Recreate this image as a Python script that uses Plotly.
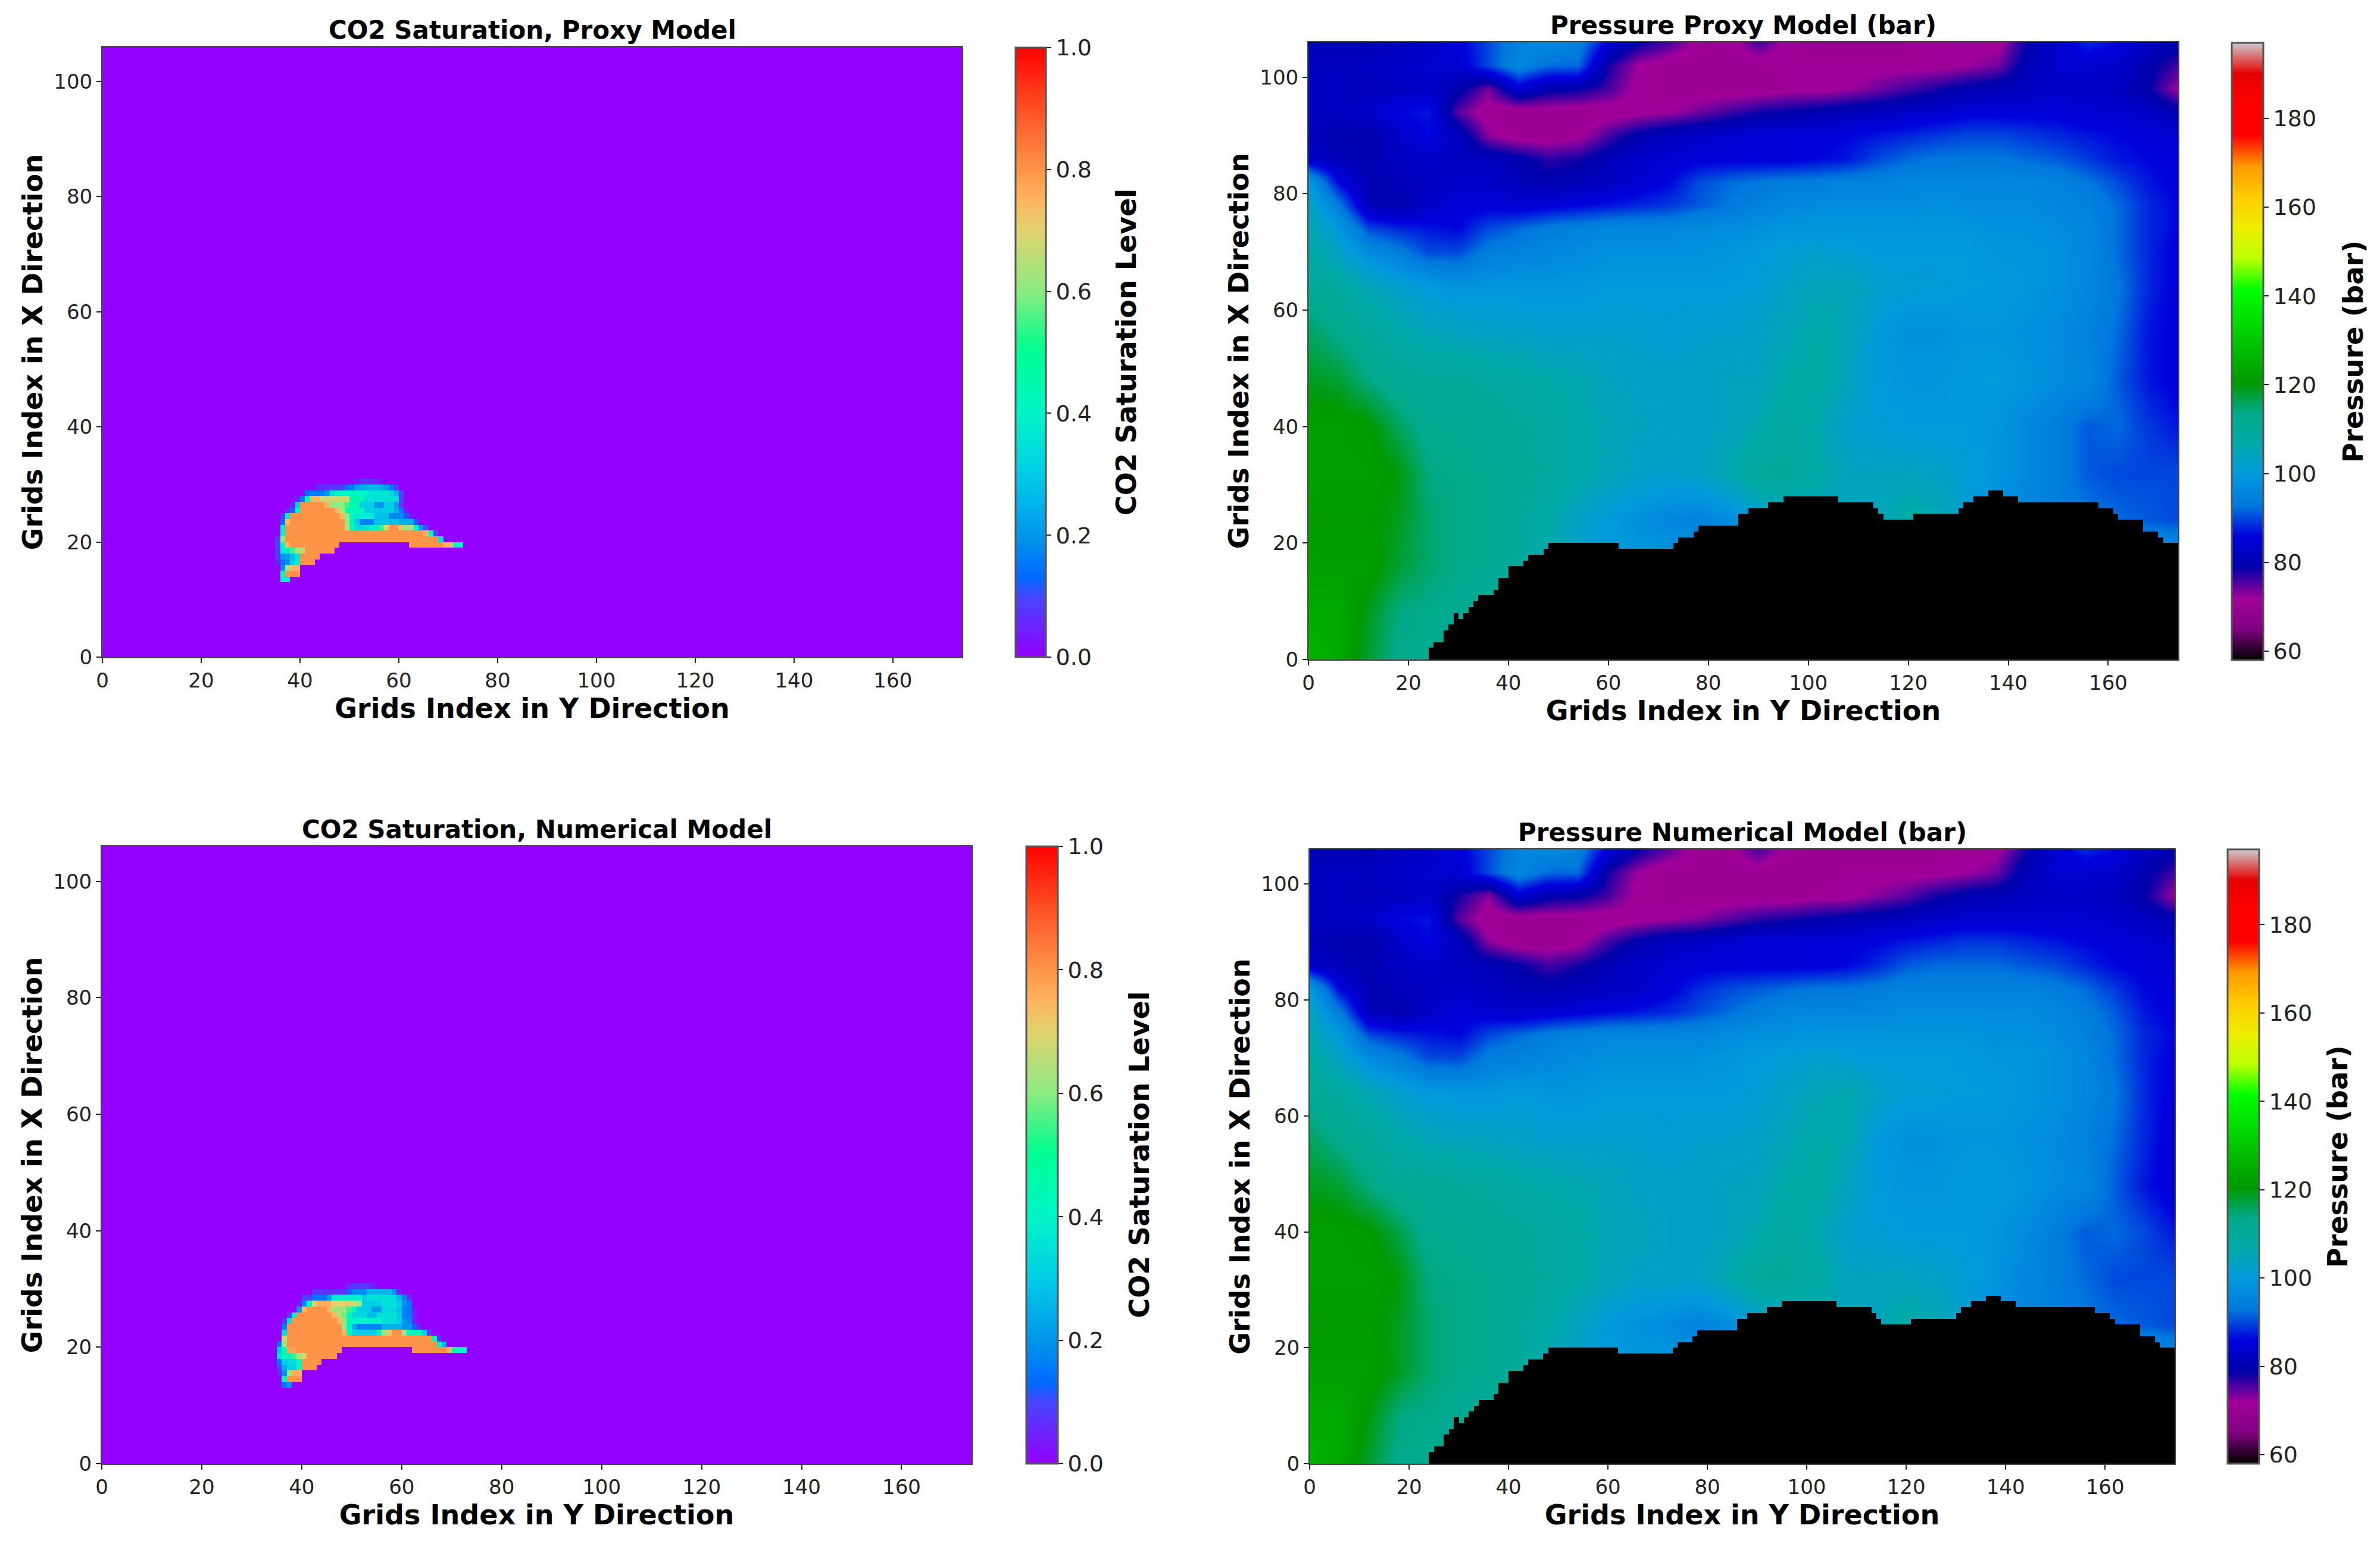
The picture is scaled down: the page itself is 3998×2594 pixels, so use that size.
import numpy as np
import plotly.graph_objects as go

W, H = 3998, 2594

# ---- data ----
X_TICKS = [0, 20, 40, 60, 80, 100, 120, 140, 160]
Y_TICKS = [0, 20, 40, 60, 80, 100]
SAT_TICKS = [0.0, 0.2, 0.4, 0.6, 0.8, 1.0]
PRES_TICKS = [60, 80, 100, 120, 140, 160, 180]
NY_GRID, NX_GRID = 174, 106

PLUME_FIRST_COL = 35
PLUME_FIRST_ROW = 13
PROXY_PLUME = [
    [0, .4, .38],
    [0, .42, .8, .8, .8],
    [0, .18, .6, .75, .75],
    [.05, .15, .18, .3, .38, .8, .8, .8],
    [.08, .2, .22, .28, .35, .8, .8, .8, .8],
    [.08, .38, .38, .55, .65, .65] + [.8] * 6,
    [.1, .4, .75] + [.8] * 10 + [0] * 14 + [.8] * 7 + [.75, .75, .42, .42],
    [.08, .6] + [.8] * 31 + [.35],
    [0, .42] + [.8] * 28 + [.75, .42, .1],
    [0, .38] + [.8] * 12 + [.68, .45, .33, .33, .33, .38, .38, .55, .7, .8, .8, .72, .62, .65, .42, .2, .1],
    [0, .15, .75] + [.8] * 11 + [.62, .45, .3, .17, .17, .17, .28, .28, .28, .28, .28, .25, .25, .25, .12],
    [0, .08, .38] + [.8] * 10 + [.75, .6, .42, .38, .38, .38, .38, .28, .28, .28, .18, .18, .18, .12, .03],
    [0, 0, .05, .12, .4] + [.8] * 7 + [.75, .65, .5, .42, .42, .42, .3, .3, .3, .3, .3, .3, .25, .15, .03],
    [0, 0, 0, .05, .3] + [.8] * 5 + [.75, .6, .6, .6, .55, .45, .45, .3, .3, .3, .2, .2, .3, .3, .22, .08],
    [0, 0, 0, 0, .05, .15, .42, .75, .75, .68, .68, .68, .68, .68, .68, .45, .45, .45, .35, .35, .35, .35, .35, .35, .35, .1],
    [0] * 6 + [.14, .16, .15, .16, .2, .36, .38, .4, .4, .42, .42, .4, .38, .36, .36, .36, .36, .32, .25, .1],
    [0] * 8 + [.05, .06, .07, .07, .08, .08, .15, .15, .22, .24, .26, .26, .26, .24, .22, .15, .08],
    [0] * 16 + [.04, .07, .08, .06, .05, .03],
]
NUMERICAL_PLUME = [
    [0, .15, .2],
    [0, .42, .8, .8, .8],
    [.05, .2, .6, .76, .76],
    [.08, .25, .3, .3, .42, .8, .8, .8],
    [.15, .3, .33, .33, .42, .8, .8, .8, .8],
    [.35, .42, .42, .55, .62, .7] + [.8] * 6,
    [.3, .45, .78, .78] + [.8] * 9 + [0] * 14 + [.8] * 7 + [.76, .42, .38, .42],
    [.15, .62] + [.8] * 30 + [.42, .25],
    [0, .65] + [.8] * 29 + [.45, .07],
    [0, .33] + [.8] * 11 + [.76, .45, .3, .3, .3, .3, .3, .42, .62, .72, .8, .8, .62, .42, .42, .42, .3, .08],
    [0, .17] + [.8] * 11 + [.62, .4, .25, .17, .17, .17, .17, .17, .25, .25, .25, .25, .2, .2, .12, .05],
    [0, .07, .35] + [.8] * 9 + [.75, .62, .45, .4, .4, .4, .4, .4, .4, .35, .35, .35, .3, .2, .17, .05],
    [0, 0, .08, .38] + [.8] * 7 + [.75, .65, .58, .42, .33, .33, .33, .27, .27, .35, .35, .35, .35, .3, .17, .15, .05],
    [0, 0, 0, 0, .2, .75] + [.8] * 4 + [.75, .62, .62, .62, .55, .42, .3, .3, .3, .22, .22, .33, .33, .33, .28, .17, .15, .04],
    [0, 0, 0, 0, .04, .17, .42, .7, .76, .76, .76, .7, .7, .7, .7, .65, .62, .3, .3, .3, .3, .35, .35, .35, .3, .2, .15],
    [0] * 5 + [.1, .08, .15, .15, .15, .22, .38, .38, .38, .38, .38, .4, .3, .35, .35, .35, .35, .35, .35, .25, .17, .07],
    [0] * 7 + [.07, .07, .07, .07, .07, .07, .07, .12, .18, .18, .18, .26, .26, .26, .26, .26, .2, .05],
    [0] * 14 + [.06, .07, .08, .08, .07, .04],
]

# height of the black inactive block in every Y-direction column
BLACK_HEIGHT = ([0] * 24 + [2] + [3] * 2 + [5, 6, 8, 7, 8, 9, 10] + [11] * 3 + [12] + [14] * 2 + [16] * 3 + [17]
                + [18] * 3 + [19] + [20] * 14 + [19] * 11 + [20] + [21] * 3 + [22] + [23] * 8 + [25] * 2 + [26] * 4
                + [27] * 3 + [28] * 11 + [27] * 7 + [26, 25] + [24] * 6 + [25] * 9 + [26] + [27] * 2 + [28] * 3
                + [29] * 3 + [28] * 3 + [27] * 16 + [26] * 3 + [25] + [24] * 5 + [22] * 3 + [21] + [20] * 3)

PRES_X = list(range(0, 175, 6))
PRES_Y = [0, 8, 16, 24, 32, 40, 48, 56, 64, 70, 74, 78, 82, 86, 90, 94, 98, 102, 106]
PROXY_PRESSURE = [
    [126, 124, 118, 113, 112, 110, 108, 106, 104, 104, 104, 104, 104, 104, 104, 104, 104, 104, 104, 104, 104, 104, 104, 104, 104, 104, 104, 104, 104, 104],
    [124, 124, 119, 114, 113, 112, 110, 108, 104, 104, 104, 104, 104, 104, 104, 104, 104, 104, 104, 104, 104, 104, 104, 104, 104, 104, 104, 104, 104, 104],
    [122, 122, 122, 118, 115, 113, 112, 110, 106, 102, 100, 100, 100, 100, 100, 100, 100, 100, 100, 100, 100, 100, 100, 100, 100, 100, 100, 100, 100, 100],
    [121, 121, 121, 119, 115, 113, 112, 110, 107, 103, 100, 98, 96, 95, 97, 101, 104, 105, 104, 104, 108, 106, 101, 98, 96, 94, 93, 92, 91, 90],
    [122, 122, 122, 120, 114, 113, 112, 111, 109, 107, 105, 103, 102, 103, 106, 110, 110, 107, 104, 104, 104, 103, 101, 99, 96, 94, 91, 90, 90, 90],
    [122, 122, 121, 116, 112, 112, 111, 110, 109, 107, 105, 104, 103, 103, 104, 106, 109, 106, 102, 101, 100, 100, 100, 99, 96, 94, 91, 92, 89, 87],
    [119, 118, 114, 111, 110, 110, 109, 108, 107, 106, 104, 103, 103, 103, 104, 104, 107, 108, 104, 100, 99, 99, 100, 100, 99, 97, 96, 91, 87, 85],
    [116, 113, 110, 107, 105, 104, 103, 103, 102, 102, 102, 102, 101, 102, 102, 103, 105, 107, 105, 100, 98, 98, 99, 99, 98, 97, 95, 92, 87, 85],
    [111, 109, 105, 102, 100, 99, 99, 99, 99, 99, 100, 100, 100, 100, 100, 101, 103, 105, 105, 102, 101, 101, 100, 100, 99, 98, 96, 93, 88, 85],
    [108, 103, 97, 94, 90, 90, 94, 95, 96, 97, 98, 98, 98, 98, 99, 100, 101, 102, 101, 100, 100, 100, 100, 99, 99, 98, 96, 92, 88, 85],
    [106, 100, 90, 88, 87, 86, 90, 92, 94, 95, 96, 96, 96, 97, 97, 98, 99, 99, 99, 99, 99, 99, 99, 98, 98, 97, 96, 92, 88, 86],
    [104, 94, 81, 80, 83, 85, 85, 84, 85, 86, 87, 88, 89, 91, 93, 95, 96, 97, 97, 97, 97, 98, 97, 97, 97, 96, 95, 92, 88, 86],
    [100, 86, 80, 81, 82, 83, 83, 81, 80, 81, 82, 84, 86, 90, 92, 93, 94, 94, 95, 95, 96, 96, 96, 96, 96, 95, 93, 90, 87, 85],
    [83, 81, 80, 82, 83, 82, 82, 80, 77, 78, 81, 83, 84, 85, 85, 85, 85, 86, 87, 90, 92, 93, 93, 93, 92, 91, 89, 87, 86, 85],
    [81, 80, 79, 83, 86, 82, 73, 70, 70, 71, 76, 80, 82, 83, 84, 85, 85, 85, 86, 87, 88, 89, 90, 90, 89, 88, 87, 86, 85, 84],
    [82, 82, 83, 86, 87, 75, 70, 70, 70, 70, 70, 71, 72, 74, 76, 78, 79, 80, 81, 82, 83, 84, 85, 85, 85, 85, 84, 84, 83, 80],
    [82, 82, 81, 82, 83, 80, 74, 84, 80, 79, 76, 71, 70, 70, 70, 70, 71, 71, 72, 74, 76, 78, 80, 81, 82, 83, 83, 82, 79, 72],
    [82, 82, 82, 83, 84, 84, 90, 96, 92, 92, 78, 72, 70, 70, 70, 70, 71, 71, 71, 71, 71, 71, 72, 74, 81, 84, 84, 83, 80, 76],
    [80, 80, 80, 81, 83, 85, 90, 95, 97, 95, 85, 79, 76, 71, 70, 76, 71, 70, 70, 70, 70, 71, 71, 71, 79, 84, 88, 86, 82, 80],
]
NUMERICAL_PRESSURE = [
    [126, 124, 118, 113, 112, 110, 108, 106, 104, 104, 104, 104, 104, 104, 104, 104, 104, 104, 104, 104, 104, 104, 104, 104, 104, 104, 104, 104, 104, 104],
    [124, 124, 120, 114, 113, 112, 110, 108, 104, 104, 104, 104, 104, 104, 104, 104, 104, 104, 104, 104, 104, 104, 104, 104, 104, 104, 104, 104, 104, 104],
    [122, 122, 122, 119, 115, 113, 112, 110, 106, 102, 100, 100, 100, 100, 100, 100, 100, 100, 100, 100, 100, 100, 100, 100, 100, 100, 100, 100, 100, 100],
    [121, 121, 121, 119, 115, 113, 112, 110, 107, 104, 100, 98, 97, 95, 97, 101, 104, 105, 104, 104, 108, 106, 101, 98, 96, 95, 93, 92, 91, 90],
    [122, 122, 122, 120, 114, 113, 112, 111, 109, 107, 105, 103, 103, 103, 106, 110, 110, 108, 104, 104, 104, 103, 101, 99, 96, 94, 92, 90, 90, 90],
    [122, 122, 121, 117, 112, 112, 111, 110, 109, 108, 105, 105, 103, 103, 104, 106, 109, 106, 102, 101, 100, 100, 100, 99, 97, 94, 91, 92, 90, 87],
    [119, 118, 114, 111, 111, 110, 109, 108, 107, 106, 105, 103, 103, 103, 104, 104, 107, 108, 104, 100, 99, 99, 100, 100, 99, 97, 96, 91, 87, 84],
    [116, 113, 110, 107, 105, 104, 104, 103, 102, 102, 102, 102, 101, 102, 102, 103, 105, 107, 106, 100, 98, 98, 99, 99, 98, 97, 95, 92, 88, 84],
    [111, 109, 105, 102, 100, 99, 99, 100, 99, 99, 100, 100, 100, 100, 100, 101, 103, 105, 106, 103, 101, 101, 100, 100, 99, 98, 96, 93, 88, 85],
    [108, 103, 97, 94, 90, 90, 94, 95, 96, 97, 98, 98, 98, 98, 99, 100, 101, 102, 101, 100, 100, 100, 100, 99, 99, 98, 96, 92, 88, 85],
    [106, 100, 90, 88, 87, 86, 90, 92, 94, 95, 96, 96, 96, 96, 97, 98, 98, 99, 99, 99, 99, 99, 99, 98, 98, 97, 95, 92, 88, 86],
    [104, 94, 81, 80, 83, 85, 84, 83, 84, 85, 86, 87, 88, 90, 92, 94, 96, 96, 96, 96, 97, 97, 97, 97, 97, 96, 94, 91, 87, 85],
    [100, 86, 80, 81, 82, 83, 82, 81, 80, 81, 82, 83, 85, 88, 90, 91, 92, 93, 93, 94, 95, 95, 95, 95, 95, 94, 92, 89, 86, 85],
    [83, 81, 80, 82, 83, 82, 81, 79, 76, 78, 81, 83, 84, 85, 85, 85, 85, 85, 86, 88, 91, 92, 92, 92, 91, 90, 88, 86, 85, 84],
    [81, 80, 79, 83, 86, 82, 73, 70, 70, 71, 76, 80, 82, 83, 84, 85, 85, 85, 85, 86, 87, 88, 89, 89, 88, 87, 86, 85, 84, 83],
    [82, 82, 83, 86, 87, 75, 70, 70, 70, 70, 70, 71, 72, 73, 75, 77, 78, 79, 80, 81, 82, 83, 84, 84, 84, 84, 84, 83, 82, 80],
    [82, 82, 81, 82, 83, 78, 73, 84, 80, 79, 76, 71, 70, 70, 70, 70, 70, 71, 71, 73, 75, 78, 80, 81, 82, 83, 83, 82, 79, 72],
    [82, 82, 82, 83, 84, 84, 90, 96, 92, 92, 78, 72, 70, 70, 70, 70, 70, 70, 71, 71, 71, 71, 72, 74, 81, 84, 84, 83, 80, 76],
    [80, 80, 80, 81, 83, 85, 90, 95, 97, 95, 85, 79, 75, 71, 70, 76, 71, 70, 70, 70, 70, 70, 71, 71, 78, 84, 88, 86, 82, 80],
]

TITLES = ["CO2 Saturation, Proxy Model", "Pressure Proxy Model (bar)",
          "CO2 Saturation, Numerical Model", "Pressure Numerical Model (bar)"]
XLABEL = "Grids Index in Y Direction"
YLABEL = "Grids Index in X Direction"
CB_SAT = "CO2 Saturation Level"
CB_PRES = "Pressure (bar)"

# ---- styles ----
SAT_SCALE = [[0, "rgb(148,0,255)"], [.1, "rgb(70,70,255)"], [.13, "rgb(0,105,255)"], [.2, "rgb(0,150,235)"],
             [.3, "rgb(0,205,230)"], [.4, "rgb(0,245,200)"], [.5, "rgb(0,255,150)"], [.52, "rgb(20,250,140)"],
             [.6, "rgb(140,235,130)"], [.7, "rgb(225,210,110)"], [.75, "rgb(255,180,95)"], [.8, "rgb(255,148,72)"],
             [.9, "rgb(255,80,35)"], [1, "rgb(255,0,0)"]]
_SPECTRAL = [(0, 0, 0), (.5, 0, .5), (.63, 0, .6), (0, 0, .6667), (0, 0, .8667), (0, .4667, .8667),
             (0, .6, .8667), (0, .6667, .6667), (0, .6667, .5333), (0, .6, 0), (0, .7333, 0), (0, .8667, 0),
             (0, 1, 0), (.7333, 1, 0), (.9333, .9333, 0), (1, .8, 0), (1, .6, 0), (1, 0, 0), (1, 0, 0),
             (.9, 0, 0), (.8, .8, .8)]
PRES_SCALE = [[i / 20, "rgb(%d,%d,%d)" % tuple(round(255 * c) for c in rgb)] for i, rgb in enumerate(_SPECTRAL)]
FONT = "DejaVu Sans"
INK = "#222222"

# px boxes: left, right, top, bottom
AX = [(172, 1616, 79, 1104), (2198, 3659, 71, 1108), (171, 1632, 1422, 2459), (2200, 3653, 1427, 2459)]
CB = [(1706, 1757, 80, 1104), (3749, 3802, 72, 1109), (1724, 1777, 1422, 2459), (3742, 3795, 1427, 2459)]
CB_TITLE_X = [1892, 3952, 1913, 3927]


def plume_matrix(rows):
    z = np.zeros((NX_GRID, NY_GRID))
    for r, vals in enumerate(rows):
        z[PLUME_FIRST_ROW + r, PLUME_FIRST_COL:PLUME_FIRST_COL + len(vals)] = vals
    return z


def black_mask():
    m = np.full((NX_GRID, NY_GRID), np.nan)
    for col, h in enumerate(BLACK_HEIGHT):
        m[:h, col] = 1
    return m


fig = go.Figure()
layout = {}
ann = []
cells_x = [i + .5 for i in range(NY_GRID)]
cells_y = [i + .5 for i in range(NX_GRID)]
for i in range(4):
    l, r, t, b = AX[i]
    ax_x, ax_y = f"x{i + 1}", f"y{i + 1}"
    cl, cr, ct, cb = CB[i]
    bar = dict(x=cl / W, xanchor="left", xref="paper", y=1 - cb / H, yanchor="bottom", yref="paper",
               len=(cb - ct) / H, lenmode="fraction", thickness=cr - cl, thicknessmode="pixels",
               xpad=0, ypad=0, outlinecolor="#555555", outlinewidth=3, ticks="outside", ticklen=8,
               tickwidth=2, tickcolor=INK, tickfont=dict(family=FONT, size=38, color=INK))
    if i % 2 == 0:
        z = plume_matrix(PROXY_PLUME if i == 0 else NUMERICAL_PLUME)
        fig.add_trace(go.Heatmap(z=z.tolist(), x=cells_x, y=cells_y, zmin=0, zmax=1, colorscale=SAT_SCALE,
                                 xaxis=ax_x, yaxis=ax_y,
                                 colorbar=dict(bar, tickvals=SAT_TICKS, ticktext=[f"{v:.1f}" for v in SAT_TICKS])))
    else:
        fig.add_trace(go.Heatmap(z=PROXY_PRESSURE if i == 1 else NUMERICAL_PRESSURE, x=PRES_X, y=PRES_Y,
                                 zmin=58, zmax=197, colorscale=PRES_SCALE, zsmooth="best", xaxis=ax_x, yaxis=ax_y,
                                 colorbar=dict(bar, tickvals=PRES_TICKS)))
        fig.add_trace(go.Heatmap(z=black_mask().tolist(), x=cells_x, y=cells_y, zmin=0, zmax=1,
                                 colorscale=[[0, "#000000"], [1, "#000000"]], showscale=False, hoverinfo="skip",
                                 xaxis=ax_x, yaxis=ax_y))
    common = dict(showline=True, mirror=True, linecolor="#444444", linewidth=2, ticks="outside", ticklen=8,
                  tickwidth=2, tickcolor=INK, showgrid=False, zeroline=False, automargin=False,
                  tickfont=dict(family=FONT, size=34, color=INK))
    layout[f"xaxis{i + 1}"] = dict(common, domain=[l / W, r / W], range=[0, 174], anchor=ax_y, tickvals=X_TICKS,
                                   title=dict(text=f"<b>{XLABEL}</b>", standoff=0,
                                              font=dict(family=FONT, size=46, color="#000000")))
    layout[f"yaxis{i + 1}"] = dict(common, domain=[1 - b / H, 1 - t / H], range=[0, 106], anchor=ax_x, tickvals=Y_TICKS,
                                   title=dict(text=f"<b>{YLABEL}</b>", standoff=4,
                                              font=dict(family=FONT, size=46, color="#000000")))
    ann.append(dict(text=f"<b>{TITLES[i]}</b>", x=(l + r) / 2 / W, y=1 - (t - 2) / H, xref="paper", yref="paper",
                    xanchor="center", yanchor="bottom", showarrow=False,
                    font=dict(family=FONT, size=42, color="#000000")))
    ann.append(dict(text=f"<b>{CB_SAT if i % 2 == 0 else CB_PRES}</b>", x=CB_TITLE_X[i] / W, y=1 - (ct + cb) / 2 / H,
                    xref="paper", yref="paper", xanchor="center", yanchor="middle", textangle=-90, showarrow=False,
                    font=dict(family=FONT, size=46, color="#000000")))

fig.update_layout(width=W, height=H, margin=dict(l=0, r=0, t=0, b=0), autosize=False, paper_bgcolor="white",
                  plot_bgcolor="white", annotations=ann, showlegend=False, **layout)
fig.write_html("out.html", config={"displayModeBar": False}, post_script="document.body.style.margin='0';")
